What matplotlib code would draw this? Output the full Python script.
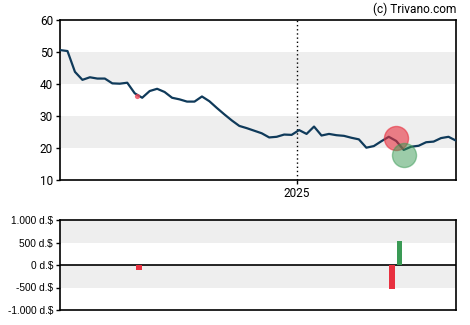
import matplotlib
matplotlib.use("Agg")
import matplotlib.pyplot as plt
import matplotlib.dates as mdates
import numpy as np
import pandas as pd

# Weekly closing prices
dates = pd.date_range("2024-05-24", periods=54, freq="7D")
prices = [50.6, 50.3, 43.8, 41.3, 42.1, 41.7, 41.7, 40.2, 40.1, 40.4,
          37.1, 35.7, 37.8, 38.5, 37.5, 35.7, 35.2, 34.5, 34.5, 36.1,
          34.6, 32.5, 30.5, 28.6, 26.9, 26.2, 25.4, 24.6, 23.3, 23.5,
          24.2, 24.1, 25.6, 24.4, 26.7, 23.9, 24.4, 24.0, 23.8, 23.2,
          22.7, 20.1, 20.6, 22.1, 23.5, 22.2, 19.4, 20.4, 20.7, 21.8,
          22.0, 23.1, 23.5, 22.3]

# Insider transactions: small sell marker, large sell / buy circles
small_sell_date = pd.Timestamp("2024-08-04")
small_sell_price = 36.2
big_sell_date = pd.Timestamp("2025-04-04")
big_sell_price = 23.0
big_buy_date = pd.Timestamp("2025-04-11")
big_buy_price = 17.8

# Net transaction volume bars (thousand dollars)
bar_dates = [pd.Timestamp("2024-08-06"), pd.Timestamp("2025-03-31"), pd.Timestamp("2025-04-07")]
bar_values = [-100, -540, 530]
bar_colors = ["#e8303f", "#e8303f", "#3a9a55"]

price_ticks = [10, 20, 30, 40, 50, 60]
vol_ticks = [-1000, -500, 0, 500, 1000]
vol_labels = ["-1.000 d.$", "-500 d.$", "0 d.$", "500 d.$", "1.000 d.$"]

line_color = "#0f3a5a"
band_color = "#eeeeee"

fig = plt.figure(figsize=(4.7, 3.25), dpi=100)
ax = fig.add_axes([60 / 470, 1 - 180 / 325, 396 / 470, 160 / 325])
axb = fig.add_axes([60 / 470, 1 - 310 / 325, 396 / 470, 90 / 325])

x0, x1 = dates[0], dates[-1]

# Price panel
for lo, hi in [(20, 30), (40, 50)]:
    ax.axhspan(lo, hi, color=band_color, zorder=0, lw=0)
ax.axvline(pd.Timestamp("2025-01-01"), color="black", lw=1, ls=(0, (1, 2)), zorder=1)
ax.plot(dates, prices, color=line_color, lw=1.6, zorder=3)
ax.scatter([small_sell_date], [small_sell_price], s=14, color="#ee4455", alpha=0.8, zorder=4, lw=0)
ax.scatter([big_sell_date], [big_sell_price], s=300, color="#e8303f", alpha=0.6,
           edgecolor="#e8303f", lw=1, zorder=4)
ax.scatter([big_buy_date], [big_buy_price], s=300, color="#3a9a55", alpha=0.5,
           edgecolor="#3a9a55", lw=1, zorder=4)
ax.set_xlim(x0, x1)
ax.set_ylim(10, 60)
ax.set_yticks(price_ticks)
ax.set_xticks([pd.Timestamp("2025-01-01")])
ax.xaxis.set_major_formatter(mdates.DateFormatter("%Y"))
for lab in ax.get_yticklabels() + ax.get_xticklabels():
    lab.set_fontfamily("Roboto")
    lab.set_fontsize(8.5)
ax.tick_params(length=3, width=1, pad=2)
for sp in ax.spines.values():
    sp.set_linewidth(1.2)

# Volume panel
for lo, hi in [(500, 1000), (-500, 0)]:
    axb.axhspan(lo, hi, color=band_color, zorder=0, lw=0)
axb.axhline(0, color="black", lw=1.2, zorder=2)
axb.bar(bar_dates, bar_values, width=4.8, color=bar_colors, zorder=3)
axb.set_xlim(x0, x1)
axb.set_ylim(-1000, 1000)
axb.set_yticks(vol_ticks)
axb.set_yticklabels(vol_labels, fontfamily="Liberation Sans", fontsize=7.3)
axb.set_xticks([])
axb.tick_params(axis="y", length=3, width=1, pad=2)
for sp in axb.spines.values():
    sp.set_linewidth(1.2)

fig.text(456 / 470, 1 - 13 / 325, "(c) Trivano.com", ha="right", va="baseline",
         fontfamily="Roboto", fontsize=8.6)

fig.savefig("out.png", dpi=100)
